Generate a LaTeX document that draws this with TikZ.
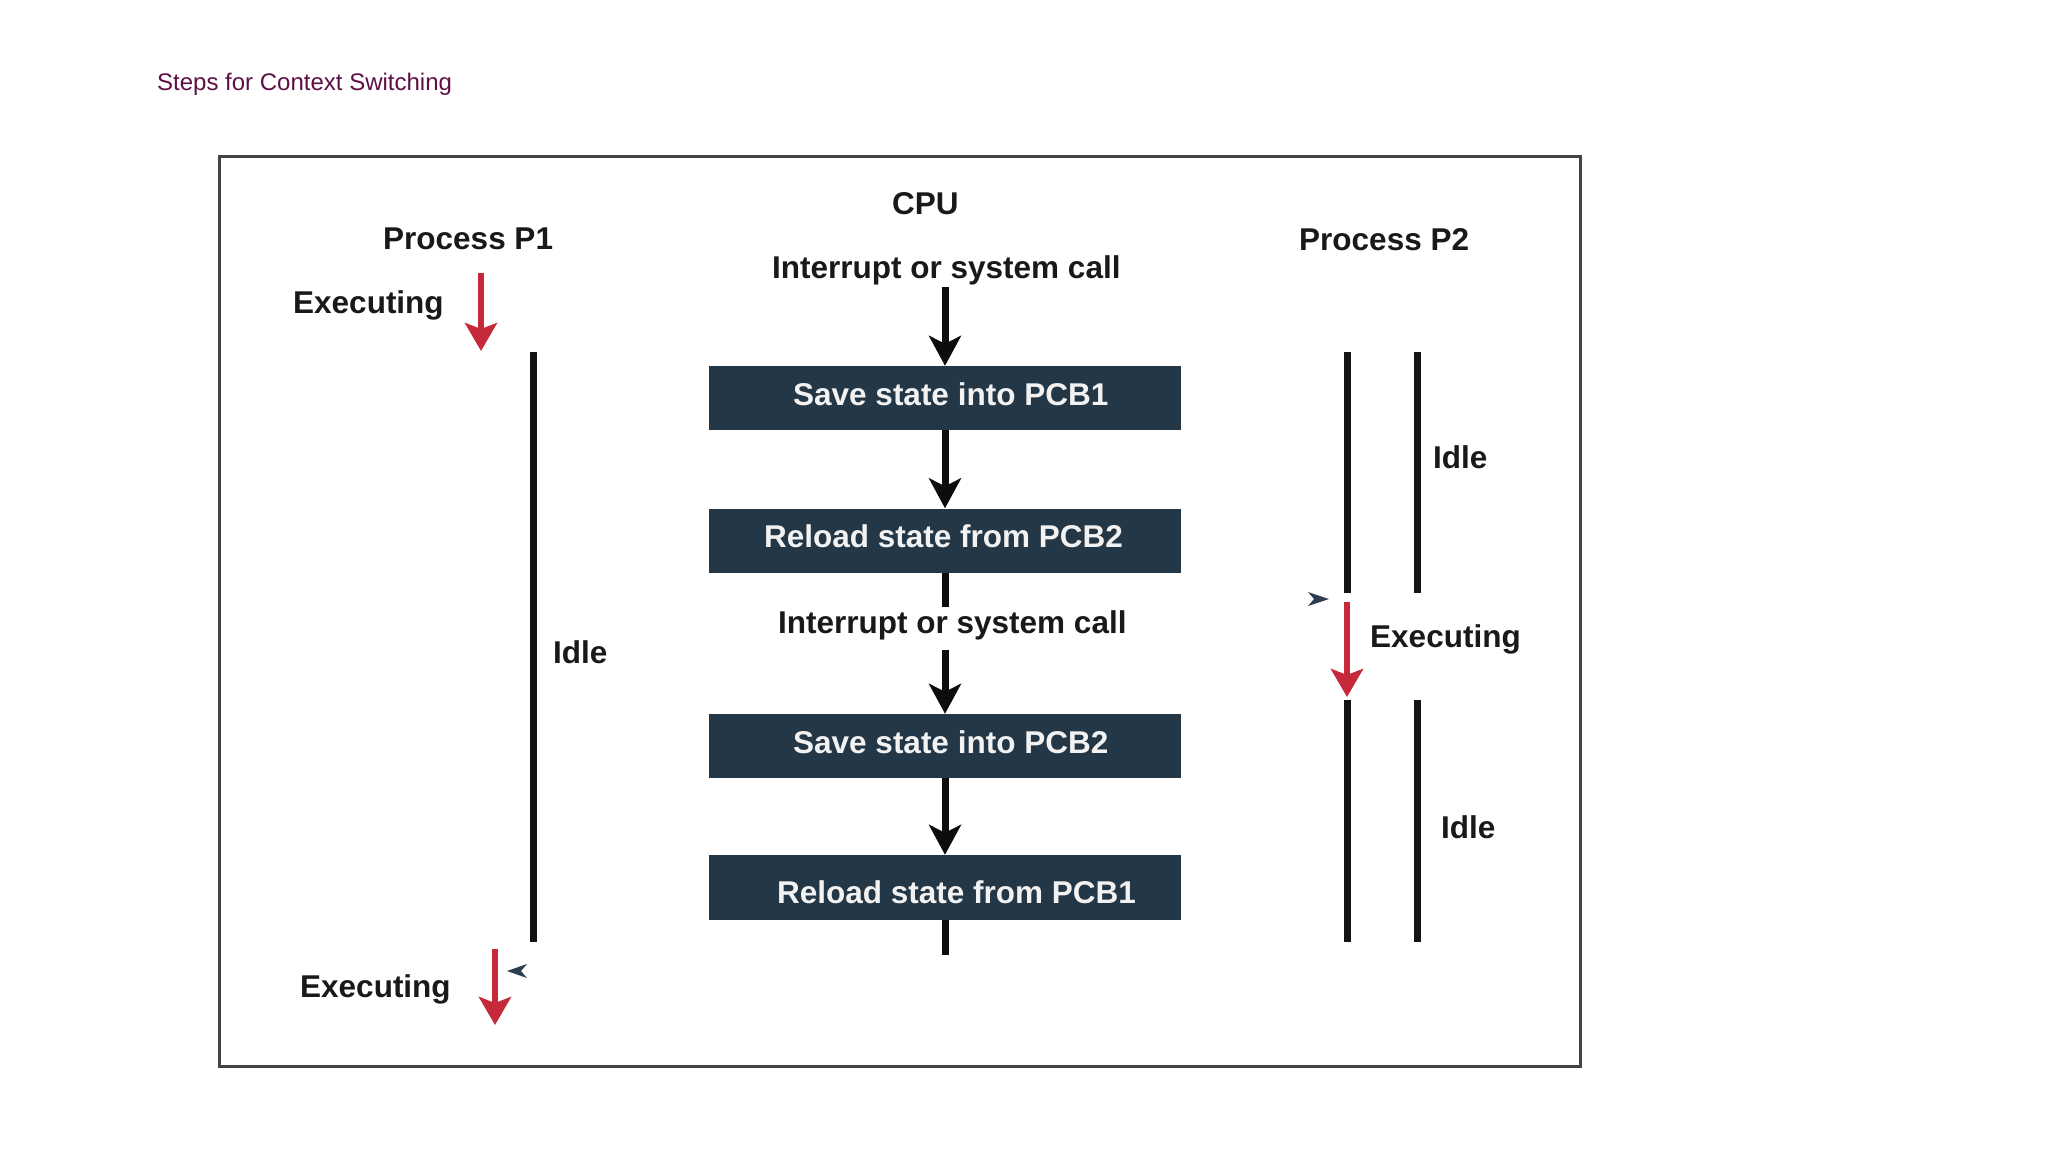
\documentclass[tikz,border=0pt]{standalone}
\usepackage{fontspec}
\setmainfont{Liberation Sans}
\usetikzlibrary{arrows.meta}
\definecolor{boxc}{HTML}{243746}
\definecolor{titlec}{HTML}{5E1044}
\definecolor{redc}{HTML}{C62A3A}
\definecolor{navyc}{HTML}{2C3E50}
\definecolor{framec}{HTML}{444444}
\begin{document}
\begin{tikzpicture}[x=1pt,y=-1pt,
  lbl/.style={anchor=base west,inner sep=0pt,font=\fontsize{31.5}{36}\selectfont\bfseries,text=black!90},
  boxtxt/.style={anchor=base west,inner sep=0pt,font=\fontsize{31.5}{36}\selectfont\bfseries,text=white!95!black},
  stepbox/.style={draw=none,fill=boxc,minimum width=472pt,minimum height=64pt,inner sep=0pt},
  flow/.style={line width=7pt,black!95,-{Stealth[length=30pt,width=32pt,inset=8pt]}},
  flowline/.style={line width=7pt,black!95},
  redarr/.style={line width=6pt,redc,-{Stealth[length=28pt,width=32pt,inset=6pt]}},
  bar/.style={line width=7pt,black!92},
  tiny/.style={fill=navyc,draw=none}]
\useasboundingbox (0,0) rectangle (2048,1152);
\fill[white] (0,0) rectangle (2048,1152);

% title
\node[anchor=base west,inner sep=0pt,font=\fontsize{24}{28}\selectfont,text=titlec] (title) at (157,90) {Steps for Context Switching};

% frame
\draw[line width=3pt,framec] (219,156) rectangle (1580,1066);

% headings
\node[lbl] (cpu) at (892,214) {CPU};
\node[lbl] (p1) at (383,249) {Process P1};
\node[lbl] (p2) at (1299,250) {Process P2};

% CPU column
\node[lbl] (int1) at (772,278) {Interrupt or system call};
\node[stepbox] (b1) at (945,398) {};
\node[stepbox] (b2) at (945,540.5) {};
\node[lbl] (int2) at (778,633) {Interrupt or system call};
\node[stepbox] (b3) at (945,746) {};
\node[stepbox,minimum height=65pt] (b4) at (945,887.5) {};
\node[boxtxt] (t1) at (793,405) {Save state into PCB1};
\node[boxtxt] (t2) at (764,547) {Reload state from PCB2};
\node[boxtxt] (t3) at (793,753) {Save state into PCB2};
\node[boxtxt] (t4) at (777,903) {Reload state from PCB1};
\coordinate (cend) at (945,955);

\draw[flow,shorten <=2pt] (int1.south -| b1.north) -- (b1.north);
\draw[flow] (b1.south) -- (b2.north);
\draw[flowline,shorten >=3pt] (b2.south) -- (int2.north -| b2.south);
\draw[flow,shorten <=10pt] (int2.south -| b3.north) -- (b3.north);
\draw[flow] (b3.south) -- (b4.north);
\draw[flowline] (b4.south) -- (cend);

% Process P1 column
\node[lbl] (ex1) at (293,313) {Executing};
\coordinate (r1a) at (481,273);
\coordinate (r1b) at (481,351);
\draw[redarr] (r1a) -- (r1b);
\coordinate (l1a) at (533,352);
\coordinate (l1b) at (533,942);
\draw[bar] (l1a) -- (l1b);
\node[lbl] (idle1) at (553,663) {Idle};
\coordinate (r2a) at (495,949);
\coordinate (r2b) at (495,1025);
\draw[redarr] (r2a) -- (r2b);
\node[lbl] (ex2) at (300,997) {Executing};
\fill[tiny] (507,971) -- (527,964) -- (521,971) -- (527,978) -- cycle;

% Process P2 column
\draw[bar] (1347,352) -- (1347,593);
\draw[bar] (1417,352) -- (1417,593);
\node[lbl] (idle2) at (1433,468) {Idle};
\fill[tiny] (1329,599) -- (1308,592) -- (1314,599) -- (1308,606) -- cycle;
\coordinate (r3a) at (1347,602);
\coordinate (r3b) at (1347,697);
\draw[redarr] (r3a) -- (r3b);
\node[lbl] (ex3) at (1370,647) {Executing};
\draw[bar] (1347,700) -- (1347,942);
\draw[bar] (1417,700) -- (1417,942);
\node[lbl] (idle3) at (1441,838) {Idle};
\end{tikzpicture}
\end{document}
